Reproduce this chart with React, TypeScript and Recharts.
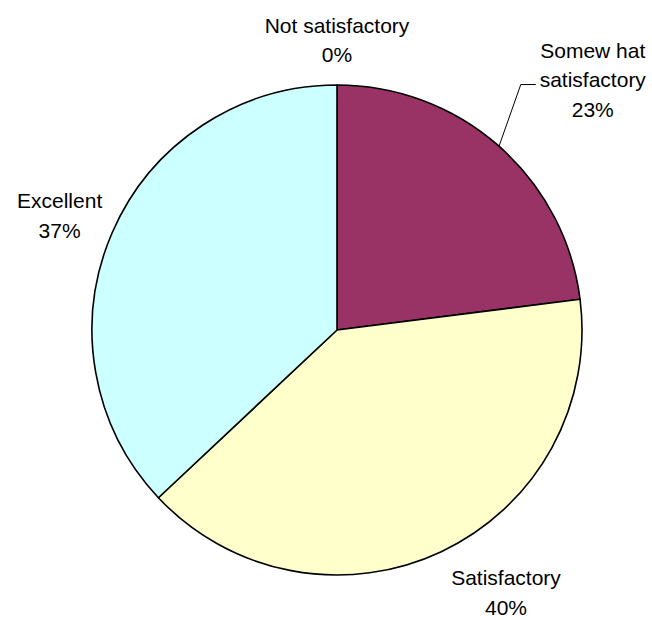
import React from "react";
import { PieChart, Pie, Cell } from "recharts";

const categories = ["Not satisfactory", "Somewhat satisfactory", "Satisfactory", "Excellent"];
const labelLines = [["Not satisfactory"], ["Somew hat", "satisfactory"], ["Satisfactory"], ["Excellent"]];
const values = [0, 23, 40, 37];
const colors = ["#9999FF", "#993366", "#FFFFCC", "#CCFFFF"];

const data = categories.map((name, i) => ({ name, value: values[i] }));

// label placement relative to each slice (angle shift in deg, radial gap in px)
const labelPlace = [
  { dA: 0, dR: 45 },
  { dA: -4.2, dR: 113 },
  { dA: 7.6, dR: 67 },
  { dA: 1, dR: 55 },
];

const RAD = Math.PI / 180;
const LINE_H = 29.5;
const FONT = "'Liberation Sans', Arial, sans-serif";

const renderLabel = (props: any) => {
  const { cx, cy, midAngle, outerRadius, percent, index } = props;
  const p = labelPlace[index];
  const a = (midAngle + p.dA) * RAD;
  const r = outerRadius + p.dR;
  const x = cx + r * Math.cos(a);
  const y = cy - r * Math.sin(a);
  const lines = [...labelLines[index], `${Math.round(percent * 100)}%`];
  const n = lines.length;
  const els: any[] = [];
  if (index === 1) {
    const sx = cx + outerRadius * Math.cos(midAngle * RAD);
    const sy = cy - outerRadius * Math.sin(midAngle * RAD);
    const ey = y + 5;
    els.push(
      <polyline
        key="ll"
        points={`${sx},${sy} ${x - 72},${ey} ${x - 57},${ey}`}
        fill="none"
        stroke="#000"
        strokeWidth={1}
      />
    );
  }
  lines.forEach((t, i) => {
    const ly = y + (i - (n - 1) / 2) * LINE_H + 7.5;
    els.push(
      <text key={i} x={x} y={ly} textAnchor="middle" fontFamily={FONT} fontSize={21} fill="#000">
        {t}
      </text>
    );
  });
  return <g key={`lab-${index}`}>{els}</g>;
};

export default function App() {
  return (
    <div style={{ position: "absolute", left: 0, top: 0, background: "#fff" }}>
      <PieChart width={652} height={620}>
        <Pie
          data={data}
          dataKey="value"
          nameKey="name"
          cx={332}
          cy={325}
          outerRadius={245}
          startAngle={90}
          endAngle={-270}
          stroke="#000"
          strokeWidth={1.6}
          label={renderLabel}
          labelLine={false}
          isAnimationActive={false}
        >
          {data.map((d, i) => (
            <Cell key={d.name} fill={colors[i]} />
          ))}
        </Pie>
      </PieChart>
    </div>
  );
}
